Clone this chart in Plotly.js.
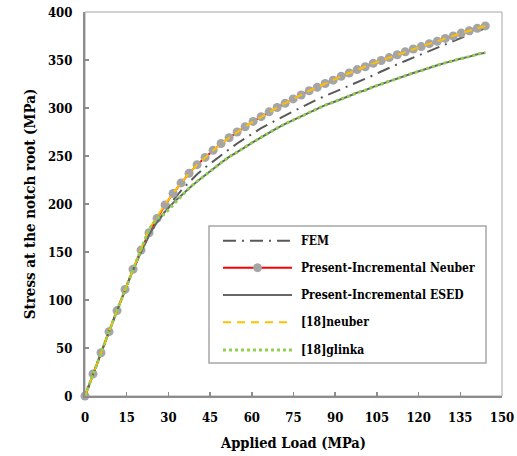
<!DOCTYPE html>
<html>
<head>
<meta charset="utf-8">
<script src="https://cdn.plot.ly/plotly-3.0.1.min.js"></script>
<style>html,body{margin:0;padding:0;background:#fff;}#chart{width:517px;height:456px;}</style>
</head>
<body>
<div id="chart"></div>
<script>
// Applied load (MPa)
const load = [0, 2.88, 5.76, 8.64, 11.52, 14.4, 17.28, 20.16, 23.04, 25.92, 28.8, 31.68, 34.56, 37.44, 40.32, 43.2, 46.08, 48.96, 51.84, 54.72, 57.6, 60.48, 63.36, 66.24, 69.12, 72, 74.88, 77.76, 80.64, 83.52, 86.4, 89.28, 92.16, 95.04, 97.92, 100.8, 103.68, 106.56, 109.44, 112.32, 115.2, 118.08, 120.96, 123.84, 126.72, 129.6, 132.48, 135.36, 138.24, 141.12, 144];
// Stress at the notch root (MPa)
const fem = [0, 23, 45, 67, 89, 110.5, 131.5, 150, 167, 181, 193, 204, 214, 223, 231, 238, 244.5, 251, 257, 263, 268.5, 274, 279, 283.5, 288, 292.5, 296.5, 300.5, 305, 309, 312.5, 316, 319.5, 323, 326.5, 330, 334, 338, 342, 345.5, 349, 352.5, 356, 359.5, 363, 366, 369.5, 373, 376.5, 380, 383];
const incNeuber = [0, 23, 45, 67, 89, 111, 132, 152, 170, 185, 199, 211, 222, 232, 241, 248.5, 256, 263, 269, 275, 280.5, 286, 291, 296, 300.5, 305, 309.5, 313.5, 318, 321.5, 325.5, 329, 333, 336.5, 340, 343, 346.5, 349.5, 352.5, 355.5, 358.5, 361.5, 364, 367, 369.5, 372.5, 375, 378, 380.5, 383, 385.5];
const incESED = [0, 23, 45, 67, 89, 110.5, 131, 150, 168, 181, 192, 201, 209, 216.5, 223.5, 230.5, 236.5, 243, 249, 254, 259.5, 264.5, 269.5, 274.5, 279, 283.5, 287.5, 291.5, 295.5, 299.5, 303, 306, 309, 312.5, 316, 318.5, 322, 325, 328, 331, 333.5, 336.5, 339, 342, 344.5, 347, 349.5, 351.5, 353.5, 356, 357.5];
const ref18Neuber = [0, 23, 45, 67, 89, 111, 132, 153, 174, 187, 199.5, 211, 222, 232, 241, 248.5, 256, 263, 269, 275, 280.5, 286, 291, 296, 300.5, 305, 309.5, 313.5, 318, 321.5, 325.5, 329, 333, 336.5, 340, 343, 346.5, 349.5, 352.5, 355.5, 358.5, 361.5, 364, 367, 369.5, 372.5, 375, 378, 380.5, 383, 385.5];
const ref18Glinka = [0, 23, 45, 67, 89, 110.5, 131, 152, 174, 185, 190, 199, 208, 216.5, 223.5, 230.5, 236.5, 243, 249, 254, 259.5, 264.5, 269.5, 274.5, 279, 283.5, 287.5, 291.5, 295.5, 299.5, 303, 306, 309, 312.5, 316, 318.5, 322, 325, 328, 331, 333.5, 336.5, 339, 342, 344.5, 347, 349.5, 351.5, 353.5, 356, 357.5];

const seriesNames = ["FEM", "Present-Incremental Neuber", "Present-Incremental ESED", "[18]neuber", "[18]glinka"];
const xTicks = [0, 15, 30, 45, 60, 75, 90, 105, 120, 135, 150];
const yTicks = [0, 50, 100, 150, 200, 250, 300, 350, 400];

const FONT = '"DejaVu Serif Condensed", "DejaVu Serif", serif';
const cFem = '#595959', cRed = '#ff0000', cMark = '#a5a5a5', cEsed = '#666666', cOrange = '#ffc000', cGreen = '#92d050';

const traces = [
  {x: load, y: fem, mode: 'lines', name: seriesNames[0], line: {color: cFem, width: 2, dash: '13px,6px,2px,6px'}},
  {x: load, y: incNeuber, mode: 'lines+markers', name: seriesNames[1], line: {color: cRed, width: 2}, marker: {color: cMark, size: 9}},
  {x: load, y: incESED, mode: 'lines', name: seriesNames[2], line: {color: cEsed, width: 2}},
  {x: load, y: ref18Neuber, mode: 'lines', name: seriesNames[3], line: {color: cOrange, width: 2, dash: '8px,6px'}},
  {x: load, y: ref18Glinka, mode: 'lines', name: seriesNames[4], line: {color: cGreen, width: 3, dash: 'dot'}}
].map(t => Object.assign(t, {cliponaxis: false, showlegend: false, hoverinfo: 'skip'}));

// plot area geometry in pixels (for the custom legend only)
const L = 85, T = 12, W = 417, H = 384;
const px = v => (v - L) / W;
const py = v => (T + H - v) / H;

const rows = [240.7, 267.7, 295, 322.3, 350];
const sx0 = 223, sx1 = 292, tx = 299;
const sampleStyles = [
  {color: cFem, width: 2, dash: '13px,6px,2px,6px'},
  {color: cRed, width: 2, dash: 'solid'},
  {color: cEsed, width: 2, dash: 'solid'},
  {color: cOrange, width: 2, dash: '8px,6px'},
  {color: cGreen, width: 3, dash: 'dot'}
];

const shapes = [
  {type: 'rect', xref: 'paper', yref: 'paper', x0: 0, x1: 1, y0: 0, y1: 1, line: {color: '#a6a6a6', width: 1}, layer: 'below'},
  {type: 'rect', xref: 'paper', yref: 'paper', x0: px(209), x1: px(486), y0: py(363), y1: py(226), line: {color: '#a6a6a6', width: 1.5}, fillcolor: '#ffffff'}
];
rows.forEach((r, i) => {
  shapes.push({type: 'line', xref: 'paper', yref: 'paper', x0: px(sx0), x1: px(sx1), y0: py(r), y1: py(r), line: sampleStyles[i]});
});
const mcx = (sx0 + sx1) / 2;
shapes.push({type: 'circle', xref: 'paper', yref: 'paper', x0: px(mcx - 4), x1: px(mcx + 4), y0: py(rows[1] + 4), y1: py(rows[1] - 4), fillcolor: cMark, line: {color: cMark, width: 1}});

const annotations = seriesNames.map((n, i) => ({
  xref: 'paper', yref: 'paper', x: px(tx), y: py(rows[i]), xanchor: 'left', yanchor: 'middle',
  text: n, showarrow: false, font: {family: FONT, size: 12, color: '#000', weight: 'bold'}
}));

const axisCommon = {
  showgrid: false, zeroline: false, showline: true, linecolor: '#8c8c8c', linewidth: 2,
  ticks: 'inside', ticklen: 4, tickcolor: '#8c8c8c', tickwidth: 1.5,
  tickfont: {family: FONT, size: 13, color: '#000', weight: 'bold'}
};

const layout = {
  width: 517, height: 456,
  margin: {l: L, r: 517 - L - W, t: T, b: 456 - T - H},
  paper_bgcolor: '#fff', plot_bgcolor: '#fff',
  showlegend: false,
  xaxis: Object.assign({}, axisCommon, {
    range: [0, 150], tickmode: 'array', tickvals: xTicks, ticktext: xTicks.map(String),
    ticklabelstandoff: 8,
    title: {text: 'Applied Load (MPa)', font: {family: FONT, size: 14.5, color: '#000', weight: 'bold'}, standoff: 14}
  }),
  yaxis: Object.assign({}, axisCommon, {
    range: [0, 400], tickmode: 'array', tickvals: yTicks, ticktext: yTicks.map(String),
    ticklabelstandoff: 8,
    title: {text: 'Stress at the notch root (MPa)', font: {family: FONT, size: 15, color: '#000', weight: 'bold'}, standoff: 9}
  }),
  shapes: shapes,
  annotations: annotations
};

Plotly.newPlot('chart', traces, layout, {staticPlot: true, displayModeBar: false});
</script>
</body>
</html>
